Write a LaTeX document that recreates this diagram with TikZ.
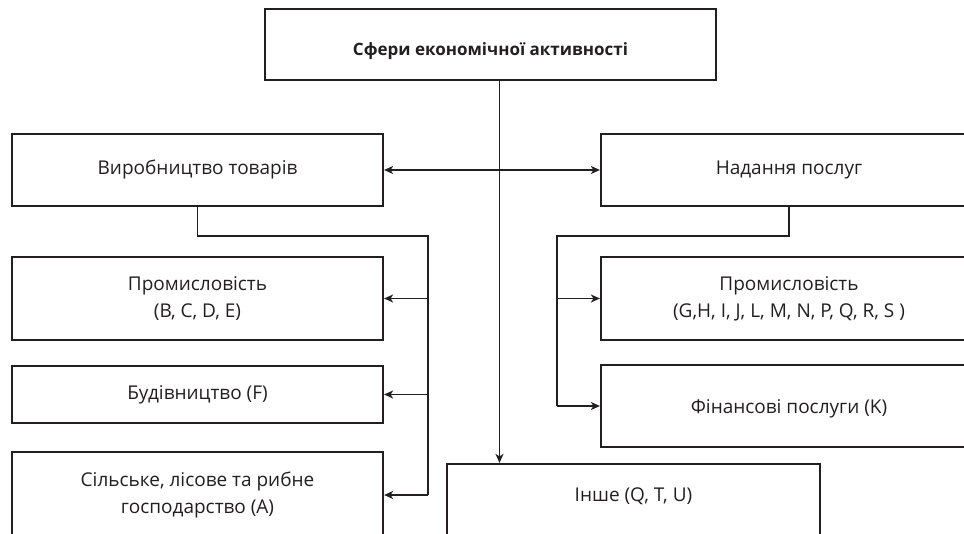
\documentclass[tikz,border=0pt]{standalone}
\usepackage{fontspec}
\setmainfont{Open Sans}
\usetikzlibrary{arrows.meta}
\definecolor{ink}{HTML}{231F20}
\begin{document}
\begin{tikzpicture}[x=1pt,y=-1pt,
  box/.style={draw=ink, line width=2.2pt, align=center, text=ink, inner sep=0pt,
    font=\fontsize{19}{27}\selectfont},
  lbl/.style={align=center, text=ink, inner sep=0pt, font=\fontsize{19}{27}\selectfont},
  conn/.style={draw=ink, line width=1.6pt},
  tip/.style={-{Stealth[length=9pt,width=8pt,inset=2.5pt]}},
  dtip/.style={{Stealth[length=9pt,width=8pt,inset=2.5pt]}-{Stealth[length=9pt,width=8pt,inset=2.5pt]}}
]
\useasboundingbox (0,0) rectangle (964,534);

% top
\node[box, minimum width=451pt, minimum height=71pt,
  label={[lbl, font=\fontsize{17}{27}\selectfont\bfseries, yshift=-7pt]center:Сфери економічної активності}]
  (top) at (490.5,44.5) {};

% left column
\node[box, minimum width=371pt, minimum height=72pt] (vyr) at (197.5,170) {Виробництво товарів};
\node[box, minimum width=371pt, minimum height=83pt] (promL) at (197.5,298.5) {Промисловість\\(B, C, D, E)};
\node[box, minimum width=371pt, minimum height=57pt] (bud) at (197.5,394.5) {Будівництво (F)};
\node[box, minimum width=371pt, minimum height=86pt] (sil) at (197.5,495) {Сільське, лісове та рибне\\господарство (A)};

% right column
\node[box, minimum width=376pt, minimum height=72pt] (nad) at (789,170) {Надання послуг};
\node[box, minimum width=376pt, minimum height=83pt] (promR) at (789,298.5) {Промисловість\\(G,H, I, J, L, M, N, P, Q, R, S )};
\node[box, minimum width=376pt, minimum height=82pt,
  label={[lbl, yshift=-3pt]center:Фінансові послуги (K)}] (fin) at (789,406) {};

% other
\node[box, minimum width=373pt, minimum height=116pt,
  label={[lbl, yshift=26pt]center:Інше (Q, T, U)}] (inshe) at (633.5,522) {};

% connectors
\coordinate (sp) at (499.5,0);
\draw[conn, tip] (top.south -| sp) -- (inshe.north -| sp);
\draw[conn, dtip] (vyr.east) -- (nad.west);

\coordinate (lj) at (428,236);
\draw[conn] (vyr.south) |- (lj) -- (lj |- sil.east);
\draw[conn, tip] (lj |- promL.east) -- (promL.east);
\draw[conn, tip] (lj |- bud.east) -- (bud.east);
\draw[conn, tip] (lj |- sil.east) -- (sil.east);

\coordinate (rj) at (557,236);
\draw[conn] (nad.south) |- (rj) -- (rj |- fin.west);
\draw[conn, tip] (rj |- promR.west) -- (promR.west);
\draw[conn, tip] (rj |- fin.west) -- (fin.west);
\end{tikzpicture}
\end{document}
